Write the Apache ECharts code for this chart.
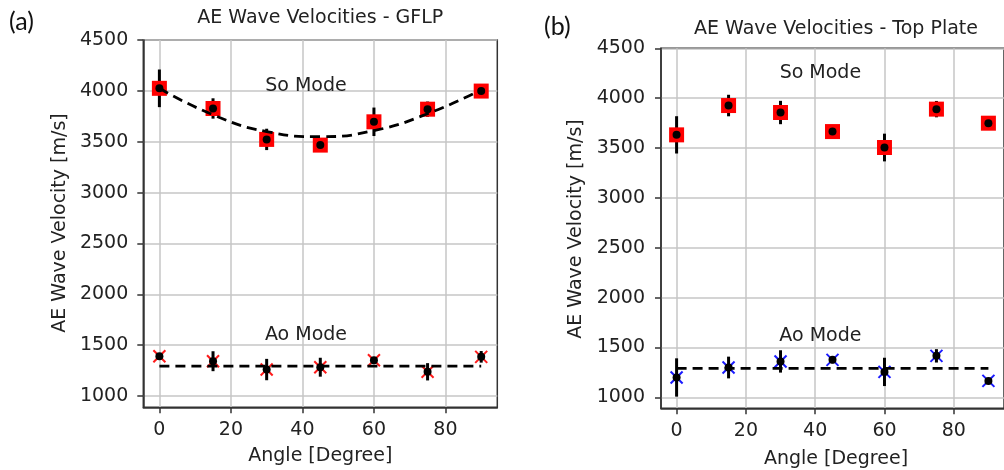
<!DOCTYPE html>
<html>
<head>
<meta charset="utf-8">
<title>AE Wave Velocities</title>
<script src="https://cdn.jsdelivr.net/npm/echarts@6/dist/echarts.min.js"></script>
<style>
  html, body { margin: 0; padding: 0; background: #ffffff; }
  #chart { width: 1004px; height: 470px; }
</style>
</head>
<body>
<div id="chart"></div>
<script>
// Propagation angles (degrees)
const angles = [0, 15, 30, 45, 60, 75, 90];

// (a) GFLP specimen: S0 and A0 mode velocities with standard deviations (m/s)
const gflpSo = [4025, 3827, 3523, 3467, 3696, 3820, 3998];
const gflpSoErr = [185, 100, 105, 40, 140, 75, 40];
const gflpSoFit = [4025, 3765, 3600, 3550, 3610, 3775, 4010];
const gflpAo = [1392, 1343, 1261, 1284, 1353, 1239, 1386];
const gflpAoErr = [25, 98, 105, 93, 25, 85, 57];
const gflpAoFit = [1295, 1295];

// (b) Top plate: S0 and A0 mode velocities with standard deviations (m/s)
const topSo = [3632, 3926, 3856, 3665, 3505, 3890, 3749];
const topSoErr = [187, 108, 117, 40, 139, 82, 40];
const topAo = [1199, 1299, 1360, 1376, 1255, 1416, 1165];
const topAoErr = [192, 109, 112, 35, 142, 67, 30];
const topAoFit = [1290, 1290];

// Axis ticks
const xTicks = [0, 20, 40, 60, 80];
const yTicks = [1000, 1500, 2000, 2500, 3000, 3500, 4000, 4500];
const fitEnds = [0, 90];

const FONT = 'DejaVu Sans';
const TXT = '#222222';
const FRAME = '#333333';

const pairs = (xs, ys) => xs.map((x, i) => [x, ys[i]]);
const triples = (xs, ys, es) => xs.map((x, i) => [x, ys[i], es[i]]);

function xAxisFor(gridIndex) {
  return {
    type: 'value', gridIndex, min: -4.5, max: 94.5,
    axisLine: { show: true, onZero: false, lineStyle: { color: FRAME, width: 1.5 } },
    axisTick: { show: true, length: 6, lineStyle: { color: FRAME, width: 1.5 }, customValues: xTicks },
    axisLabel: { customValues: xTicks, color: TXT, fontFamily: FONT, fontSize: 19, margin: 13, formatter: v => String(v) },
    splitLine: { show: true, lineStyle: { color: '#c6c6c6', width: 1.5 } }
  };
}
function yAxisFor(gridIndex, margin) {
  return {
    type: 'value', gridIndex, min: 890, max: 4500,
    axisLine: { show: true, onZero: false, lineStyle: { color: FRAME, width: 1.5 } },
    axisTick: { show: true, length: 6, lineStyle: { color: FRAME, width: 1.5 }, customValues: yTicks },
    axisLabel: { customValues: yTicks, color: TXT, fontFamily: FONT, fontSize: 19, margin: margin, formatter: v => String(v) },
    splitLine: { show: true, lineStyle: { color: '#c6c6c6', width: 1.5 } }
  };
}

// Vertical error bars
function errorBars(idx, xs, ys, es, z) {
  return {
    type: 'custom', xAxisIndex: idx, yAxisIndex: idx, z: z, silent: true,
    data: triples(xs, ys, es),
    renderItem: function (params, api) {
      const x = api.value(0), y = api.value(1), e = api.value(2);
      const lo = api.coord([x, y - e]);
      const hi = api.coord([x, y + e]);
      return {
        type: 'line',
        shape: { x1: lo[0], y1: lo[1], x2: hi[0], y2: hi[1] },
        style: { stroke: '#000000', lineWidth: 3 }
      };
    }
  };
}

// 'x' shaped markers
function crossMarks(idx, xs, ys, color) {
  return {
    type: 'custom', xAxisIndex: idx, yAxisIndex: idx, z: 3, silent: true,
    data: pairs(xs, ys),
    renderItem: function (params, api) {
      const c = api.coord([api.value(0), api.value(1)]);
      const h = 6;
      return {
        type: 'group',
        children: [
          { type: 'line', shape: { x1: c[0] - h, y1: c[1] - h, x2: c[0] + h, y2: c[1] + h }, style: { stroke: color, lineWidth: 2 } },
          { type: 'line', shape: { x1: c[0] - h, y1: c[1] + h, x2: c[0] + h, y2: c[1] - h }, style: { stroke: color, lineWidth: 2 } }
        ]
      };
    }
  };
}

function squares(idx, xs, ys) {
  return {
    type: 'scatter', xAxisIndex: idx, yAxisIndex: idx, z: 3, silent: true,
    symbol: 'rect', symbolSize: 15,
    itemStyle: { color: '#ff0000', opacity: 1 },
    data: pairs(xs, ys)
  };
}
function dots(idx, xs, ys) {
  return {
    type: 'scatter', xAxisIndex: idx, yAxisIndex: idx, z: 5, silent: true,
    symbol: 'circle', symbolSize: 8,
    itemStyle: { color: '#000000', opacity: 1 },
    data: pairs(xs, ys)
  };
}
function dashed(idx, xs, ys, smooth) {
  return {
    type: 'line', xAxisIndex: idx, yAxisIndex: idx, z: 6, silent: true,
    showSymbol: false, symbol: 'none', smooth: smooth,
    lineStyle: { color: '#000000', width: 2.8, type: [10, 6] },
    data: pairs(xs, ys)
  };
}
function modeLabels(idx, items) {
  return {
    type: 'scatter', xAxisIndex: idx, yAxisIndex: idx, z: 7, silent: true,
    symbolSize: 0,
    itemStyle: { opacity: 1 },
    label: {
      show: true, position: 'inside', color: TXT, fontFamily: FONT, fontSize: 19,
      formatter: p => p.data.name
    },
    data: items
  };
}

const chart = echarts.init(document.getElementById('chart'), null, { renderer: 'canvas' });

chart.setOption({
  animation: false,
  backgroundColor: '#ffffff',
  grid: [
    { left: 143.3, top: 40, width: 354, height: 367.3, show: true, borderColor: FRAME, borderWidth: 1.5, backgroundColor: 'transparent' },
    { left: 661, top: 48.3, width: 351, height: 360, show: true, borderColor: FRAME, borderWidth: 1.5, backgroundColor: 'transparent' }
  ],
  xAxis: [xAxisFor(0), xAxisFor(1)],
  yAxis: [yAxisFor(0, 15), yAxisFor(1, 16)],
  graphic: [
    { type: 'text', left: 9, top: 9, style: { text: '(a)', font: '25px Lato', fill: '#111' } },
    { type: 'text', left: 544, top: 14, style: { text: '(b)', font: '25px Lato', fill: '#111' } },
    { type: 'text', x: 320.3, y: 18, style: { text: 'AE Wave Velocities - GFLP', font: '19px "DejaVu Sans"', fill: TXT, align: 'center', verticalAlign: 'middle' } },
    { type: 'text', x: 836, y: 29, style: { text: 'AE Wave Velocities - Top Plate', font: '19px "DejaVu Sans"', fill: TXT, align: 'center', verticalAlign: 'middle' } },
    { type: 'text', x: 60, y: 223, rotation: Math.PI / 2, style: { text: 'AE Wave Velocity [m/s]', font: '19px "DejaVu Sans"', fill: TXT, align: 'center', verticalAlign: 'middle' } },
    { type: 'text', x: 576.5, y: 229, rotation: Math.PI / 2, style: { text: 'AE Wave Velocity [m/s]', font: '19px "DejaVu Sans"', fill: TXT, align: 'center', verticalAlign: 'middle' } },
    { type: 'text', x: 320.3, y: 456, style: { text: 'Angle [Degree]', font: '19px "DejaVu Sans"', fill: TXT, align: 'center', verticalAlign: 'middle' } },
    { type: 'text', x: 836, y: 459, style: { text: 'Angle [Degree]', font: '19px "DejaVu Sans"', fill: TXT, align: 'center', verticalAlign: 'middle' } }
  ],
  series: [
    // (a) GFLP
    errorBars(0, angles, gflpSo, gflpSoErr, 2),
    squares(0, angles, gflpSo),
    crossMarks(0, angles, gflpAo, '#ff1a1a'),
    errorBars(0, angles, gflpAo, gflpAoErr, 4),
    dots(0, angles, gflpSo),
    dots(0, angles, gflpAo),
    dashed(0, angles, gflpSoFit, 0.5),
    dashed(0, fitEnds, gflpAoFit, false),
    modeLabels(0, [{ name: 'So Mode', value: [41, 4050] }, { name: 'Ao Mode', value: [41, 1600] }]),
    // (b) Top plate
    errorBars(1, angles, topSo, topSoErr, 2),
    squares(1, angles, topSo),
    crossMarks(1, angles, topAo, '#1a1aff'),
    errorBars(1, angles, topAo, topAoErr, 4),
    dots(1, angles, topSo),
    dots(1, angles, topAo),
    dashed(1, fitEnds, topAoFit, false),
    modeLabels(1, [{ name: 'So Mode', value: [41.5, 4255] }, { name: 'Ao Mode', value: [41.5, 1610] }])
  ]
});
</script>
</body>
</html>
